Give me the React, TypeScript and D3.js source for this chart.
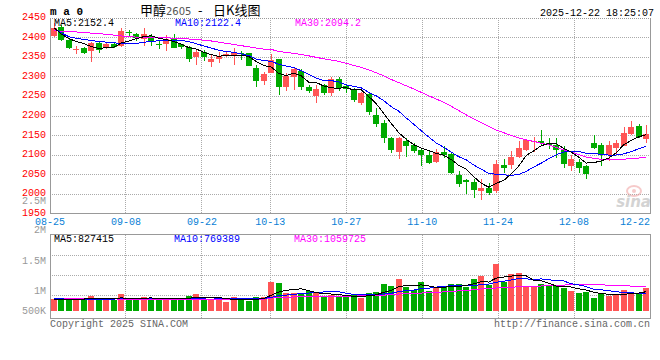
import React from "react";
import * as d3 from "d3";

// ---------- data ----------
const dates = [
  "08-25","08-26","08-27","08-28","08-29",
  "09-01","09-02","09-03","09-04","09-05","09-08","09-09","09-10","09-11","09-12",
  "09-15","09-16","09-17","09-18","09-19","09-22","09-23","09-24","09-25","09-26","09-29","09-30",
  "10-09","10-10","10-13","10-14","10-15","10-16","10-17","10-20","10-21","10-22","10-23","10-24",
  "10-27","10-28","10-29","10-30","10-31",
  "11-03","11-04","11-05","11-06","11-07","11-10","11-11","11-12","11-13","11-14",
  "11-17","11-18","11-19","11-20","11-21","11-24","11-25","11-26","11-27","11-28",
  "12-01","12-02","12-03","12-04","12-05","12-08","12-09","12-10","12-11","12-12",
  "12-15","12-16","12-17","12-18","12-19","12-22"
];

const opens = [
  2405,2428,2394,2370,2373,2367,2388,2373,2384,2380,
  2415,2410,2397,2405,2384,2384,2397,2384,2376,2350,
  2365,2338,2346,2353,2357,2360,2360,2324,2290,2311,
  2346,2275,2299,2316,2274,2251,2279,2260,2294,2277,
  2268,2234,2256,2203,2183,2143,2109,2137,2126,2114,
  2100,2083,2109,2102,2049,2035,2032,2009,2017,2007,
  2074,2075,2094,2113,2133,2136,2130,2126,2113,2071,
  2082,2071,2130,2126,2099,2118,2124,2154,2175,2141
];
const highs = [
  2437,2432,2396,2380,2376,2389,2390,2387,2390,2425,
  2420,2412,2424,2410,2393,2407,2410,2385,2378,2369,
  2369,2355,2365,2363,2373,2367,2362,2330,2312,2359,
  2347,2311,2326,2320,2279,2279,2283,2301,2301,2283,
  2271,2262,2260,2220,2190,2147,2147,2143,2130,2119,
  2113,2116,2122,2109,2059,2038,2039,2038,2028,2088,
  2090,2110,2136,2140,2145,2164,2143,2143,2122,2100,
  2090,2075,2151,2130,2136,2139,2171,2187,2179,2177
];
const lows = [
  2403,2393,2371,2358,2358,2339,2362,2372,2375,2376,
  2404,2391,2379,2379,2371,2367,2373,2371,2338,2331,
  2342,2326,2336,2350,2331,2343,2328,2275,2280,2309,
  2254,2265,2267,2267,2258,2233,2254,2250,2265,2260,
  2237,2228,2203,2173,2132,2105,2089,2096,2106,2073,
  2077,2079,2093,2051,2019,2001,1990,1985,1998,2002,
  2054,2065,2092,2110,2108,2124,2116,2092,2067,2058,
  2055,2038,2116,2071,2085,2100,2122,2152,2143,2130
];
const closes = [
  2424,2395,2373,2372,2362,2387,2369,2384,2377,2417,
  2412,2399,2410,2390,2382,2397,2375,2376,2345,2365,
  2352,2347,2354,2358,2361,2358,2329,2290,2307,2343,
  2275,2302,2320,2273,2264,2269,2258,2295,2271,2268,
  2241,2260,2209,2179,2143,2113,2143,2123,2111,2100,
  2081,2107,2100,2055,2026,2031,2011,2017,2004,2077,
  2066,2096,2118,2138,2136,2132,2126,2114,2077,2090,
  2066,2051,2119,2100,2126,2132,2156,2173,2146,2155
];
const volumes = [
  502000,502000,530000,502000,493000,632000,465000,530000,465000,707000,
  493000,465000,586000,530000,530000,530000,530000,465000,632000,744000,
  493000,502000,502000,381000,586000,493000,437000,577000,577000,1265000,
  1218000,772000,791000,716000,846000,800000,577000,688000,605000,595000,
  688000,549000,791000,828000,1163000,1070000,1376000,1023000,884000,1246000,
  837000,1043000,1053000,1175000,1175000,1043000,1391000,1513000,1109000,2030000,
  1269000,1607000,1654000,1015000,1043000,1175000,1072000,1062000,996000,835860,
  783000,820000,571000,728000,654815,675000,895000,822000,776000,969075
];

// moving-average values before enough history is on screen
const ma5Head = [2426, 2410, 2398, 2391];
const ma10Head = [2426, 2413, 2403, 2399, 2396, 2393, 2391, 2389, 2387];
const ma30Head = [
  2418,2417,2416,2415,2414,2412,2411,2409,2407,2405,
  2403,2402,2401,2401,2400,2400,2399,2398,2397,2396,
  2394,2392,2389,2386,2383,2380,2377,2374,2371
];
const volMa5Head = [493000, 484000, 474000, 484000];
const volMa10Head = [512000, 512000, 502000, 502000, 493000, 493000, 502000, 502000, 502000];
const volMa30Head = [
  512000,512000,512000,512000,512000,512000,512000,512000,512000,505000,
  505000,505000,505000,505000,505000,505000,502000,502000,502000,502000,
  502000,502000,502000,502000,502000,502000,502000,502000,505000
];

const priceTicks = [2450, 2400, 2350, 2300, 2250, 2200, 2150, 2100, 2050, 2000, 1950];
const dateTicks = ["08-25", "09-08", "09-22", "10-13", "10-27", "11-10", "11-24", "12-08", "12-22"];
const volGridTicks = [500000, 1000000, 1500000];
const volTickLabels = ["2.5M", "2M", "1.5M", "1M", "500K"];

const titleName = "甲醇";
const titleCode = "2605";
const titleDash = "-";
const titleTail = "日K线图";
const stamp = "2025-12-22 18:25:07";

// ---------- helpers ----------
function movingAvg(vals: number[], n: number, head: number[]) {
  return vals.map((_, i) =>
    i < n - 1 ? head[i] : (d3.mean(vals.slice(i - n + 1, i + 1)) as number)
  );
}

const UP = "#ff5555";
const DOWN = "#00aa00";
const GRID = "#aaaaaa";
const BORDER = "#999999";
const MONO = "'Liberation Mono', 'DejaVu Sans Mono', monospace";
const CJK = "'Noto Sans CJK SC', sans-serif";

export default function App() {
  const L = 50, R = 650;
  const PT = 18.3, PB = 213.7;
  const VT = 234.7, VB = 318, VBase = 310.7;

  const x = d3.scaleBand<string>().domain(dates).range([L, R]).padding(0);
  const bw = x.bandwidth();
  const cx = (i: number) => (x(dates[i]) as number) + bw / 2;
  const xGrid = d3.scaleLinear().domain([0, dates.length - 1]).range([L, R]);
  const y = d3.scaleLinear().domain([1950, 2450]).range([PB, PT]);
  const yv = d3.scaleLinear().domain([0, 1000000]).range([VBase, VBase - 23]);
  const yvGrid = d3.scaleLinear().domain([0, 2000000]).range([316, VT]);

  const ma5 = movingAvg(closes, 5, ma5Head);
  const ma10 = movingAvg(closes, 10, ma10Head);
  const ma30 = movingAvg(closes, 30, ma30Head);
  const vma5 = movingAvg(volumes, 5, volMa5Head);
  const vma10 = movingAvg(volumes, 10, volMa10Head);
  const vma30 = movingAvg(volumes, 30, volMa30Head);

  const pLine = d3.line<number>().x((_, i) => cx(i)).y((d) => y(d));
  const vLine = d3.line<number>().x((_, i) => cx(i)).y((d) => yv(d));

  const last = closes.length - 1;
  const fmtP = (v: number) => v.toFixed(1);
  const fmtV = (v: number) => String(Math.round(v));

  const tickIdx = dateTicks.map((t) => dates.indexOf(t));
  const volLabelBase = [203.5, 233.2, 264, 294, 313.5];

  return (
    <svg
      width={660}
      height={360}
      style={{ position: "absolute", left: 0, top: 0, background: "#fff" }}
      shapeRendering="crispEdges"
    >
      <rect x={0} y={0} width={660} height={360} fill="#fff" />

      {/* header */}
      <text x={50} y={15} fontFamily={MONO} fontSize={11} fontWeight="bold" fill="#000">
        m a 0
      </text>
      <text x={140} y={15} fontFamily={CJK} fontSize={13} fill="#000">{titleName}</text>
      <text x={166} y={15} fontFamily="'DejaVu Sans', sans-serif" fontSize={10} fill="#555">{titleCode}</text>
      <text x={198} y={15} fontFamily={CJK} fontSize={13} fill="#000">{titleDash}</text>
      <text x={213} y={15} fontFamily={CJK} fontSize={13} fill="#000">{titleTail}</text>
      <text x={654} y={15.5} textAnchor="end" fontFamily={MONO} fontSize={10} fill="#000">
        {stamp}
      </text>

      {/* price grid */}
      {priceTicks.slice(1, -1).map((t) => (
        <line key={"pg" + t} x1={L} x2={R} y1={y(t)} y2={y(t)} stroke={GRID} strokeDasharray="1,1" />
      ))}
      {tickIdx.slice(1, -1).map((i) => (
        <g key={"vg" + i}>
          <line x1={xGrid(i)} x2={xGrid(i)} y1={PT} y2={PB} stroke={GRID} strokeDasharray="1,1" />
          <line x1={xGrid(i)} x2={xGrid(i)} y1={VT} y2={VB} stroke={GRID} strokeDasharray="1,1" />
        </g>
      ))}
      {volGridTicks.map((t) => (
        <line key={"vgt" + t} x1={L} x2={R} y1={yvGrid(t)} y2={yvGrid(t)} stroke={GRID} strokeDasharray="1,1" />
      ))}

      {/* price axis labels */}
      {priceTicks.map((t) => (
        <text key={"pl" + t} x={46} y={y(t) + 2} textAnchor="end" fontFamily={MONO} fontSize={10} fill="#ff0000">
          {t}
        </text>
      ))}
      {volTickLabels.map((t, k) => (
        <text key={"vl" + t} x={46} y={volLabelBase[k]} textAnchor="end" fontFamily={MONO} fontSize={10} fill="#999">
          {t}
        </text>
      ))}
      {dateTicks.map((t, k) => {
        const gx = xGrid(tickIdx[k]);
        const isLast = k === dateTicks.length - 1;
        return (
          <text
            key={"dl" + t}
            x={isLast ? R : gx}
            y={225}
            textAnchor={isLast ? "end" : "middle"}
            fontFamily={MONO}
            fontSize={10}
            fill="#0a7fd6"
          >
            {t}
          </text>
        );
      })}

      {/* candles */}
      {dates.map((d, i) => {
        const o = opens[i], c = closes[i], h = highs[i], l = lows[i];
        const up = c >= o;
        const col = up ? UP : DOWN;
        const bx = Math.round(cx(i) - 3);
        const top = Math.round(y(Math.max(o, c)));
        const bot = Math.round(y(Math.min(o, c)));
        return (
          <g key={"c" + d}>
            <line x1={bx + 3.5} x2={bx + 3.5} y1={Math.round(y(h))} y2={Math.round(y(l))} stroke={col} />
            <rect x={bx} y={top} width={6} height={Math.max(1, bot - top)} fill={col} />
          </g>
        );
      })}

      {/* price MAs */}
      <path d={pLine(ma30) || ""} fill="none" stroke="#ff00ff" strokeWidth={1} />
      <path d={pLine(ma10) || ""} fill="none" stroke="#0000ff" strokeWidth={1} />
      <path d={pLine(ma5) || ""} fill="none" stroke="#000000" strokeWidth={1} />

      {/* watermark */}
      <g opacity={0.55}>
        <ellipse cx={634} cy={191} rx={7} ry={5} fill="none" stroke="#f0a0a0" strokeWidth={2} shapeRendering="auto" />
        <circle cx={634} cy={191} r={2} fill="#f0a0a0" shapeRendering="auto" />
        <text x={651} y={207} textAnchor="end" fontFamily="'DejaVu Sans', sans-serif" fontSize={15} fontStyle="italic" fontWeight="bold" fill="#b0b0b0" shapeRendering="auto">
          sina
        </text>
      </g>

      {/* price legend */}
      <text x={54} y={25.5} fontFamily={MONO} fontSize={10} fill="#000">{"MA5:" + fmtP(ma5[last])}</text>
      <text x={175} y={25.5} fontFamily={MONO} fontSize={10} fill="#0000ff">{"MA10:" + fmtP(ma10[last])}</text>
      <text x={295} y={25.5} fontFamily={MONO} fontSize={10} fill="#ff00ff">{"MA30:" + fmtP(ma30[last])}</text>

      {/* price frame */}
      <line x1={L} x2={R} y1={PT} y2={PT} stroke={BORDER} strokeDasharray="1,1" />
      <line x1={L} x2={L} y1={PT} y2={PB} stroke={BORDER} />
      <line x1={R} x2={R} y1={PT} y2={PB} stroke={BORDER} />
      <line x1={L} x2={R} y1={PB} y2={PB} stroke={BORDER} strokeWidth={1.5} />

      {/* volume bars */}
      {dates.map((d, i) => {
        const up = closes[i] >= opens[i];
        const bx = Math.round(cx(i) - 3);
        const top = Math.round(yv(volumes[i]));
        return <rect key={"v" + d} x={bx} y={top} width={6} height={Math.round(VBase) - top} fill={up ? UP : DOWN} />;
      })}
      <path d={vLine(vma30) || ""} fill="none" stroke="#ff00ff" />
      <path d={vLine(vma10) || ""} fill="none" stroke="#0000ff" />
      <path d={vLine(vma5) || ""} fill="none" stroke="#000000" />

      <text x={54} y={241.5} fontFamily={MONO} fontSize={10} fill="#000">{"MA5:" + fmtV(vma5[last])}</text>
      <text x={174} y={241.5} fontFamily={MONO} fontSize={10} fill="#0000ff">{"MA10:" + fmtV(vma10[last])}</text>
      <text x={294} y={241.5} fontFamily={MONO} fontSize={10} fill="#ff00ff">{"MA30:" + fmtV(vma30[last])}</text>

      {/* volume frame */}
      <rect x={L} y={VT} width={R - L} height={VB - VT} fill="none" stroke={BORDER} />

      {/* footer */}
      <text x={50} y={327} fontFamily={MONO} fontSize={10} fill="#666">Copyright 2025 SINA.COM</text>
      <text x={650} y={327} textAnchor="end" fontFamily={MONO} fontSize={10} fill="#666">http://finance.sina.com.cn</text>
    </svg>
  );
}
